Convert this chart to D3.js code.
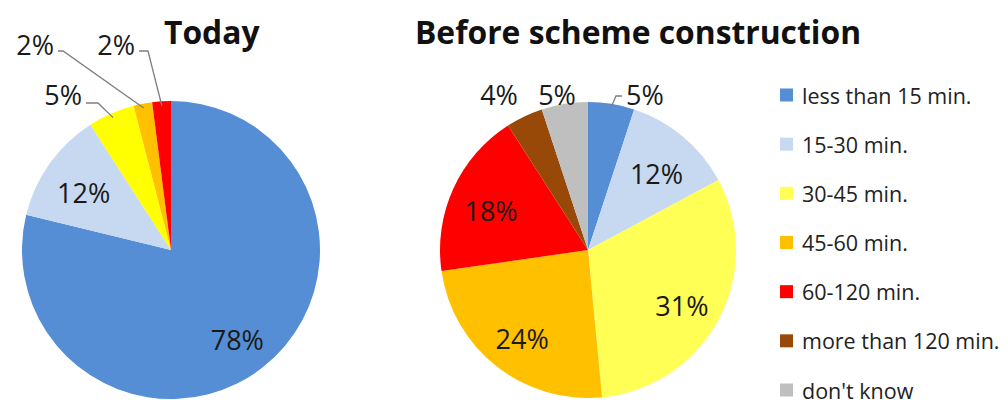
<!DOCTYPE html>
<html>
<head>
<meta charset="utf-8">
<script src="https://cdn.jsdelivr.net/npm/d3@7"></script>
<style>
  html, body { margin: 0; padding: 0; background: #fff; }
  svg { display: block; font-family: "Open Sans", Lato, sans-serif; }
</style>
</head>
<body>
<svg id="chart" width="1008" height="400"></svg>
<script>
// Travel time categories shared by both pies and the legend
const categories = ["less than 15 min.", "15-30 min.", "30-45 min.", "45-60 min.", "60-120 min.", "more than 120 min.", "don't know"];
// Share of respondents (%) per category
const todayValues = [78, 12, 5, 2, 2, 0, 0];
const beforeValues = [5, 12, 31, 24, 18, 4, 5];
const titles = ["Today", "Before scheme construction"];

const colorsToday  = ["#558ED5", "#C6D9F1", "#FFFF00", "#FFC000", "#FF0000", "#984807", "#BFBFBF"];
const colorsBefore = ["#558ED5", "#C6D9F1", "#FFFF55", "#FFC000", "#FF0000", "#984807", "#BFBFBF"];

const svg = d3.select("#chart");

const pie = d3.pie().sort(null).value(d => d.v);

// Pie layouts: centre, radius, and which slices get an outside callout
const layouts = [
  {
    cx: 171, cy: 250, r: 149, values: todayValues, colors: colorsToday,
    title: { x: 164, y: 44 },
    // callout: label anchor offset from centre, elbow offset from centre
    callouts: {
      2: { tx: -89, ty: -156, anchor: "end", elbow: [-73, -147], ly: -147 },
      3: { tx: -117, ty: -206, anchor: "end", elbow: [-108, -199], ly: -199 },
      4: { tx: -36, ty: -206, anchor: "end", elbow: [-23, -199], ly: -199 }
    }
  },
  {
    cx: 588, cy: 250, r: 148, values: beforeValues, colors: colorsBefore,
    title: { x: 415, y: 44 },
    callouts: {
      0: { tx: 38, ty: -156, anchor: "start", elbow: [28, -154], ly: -154 },
      5: { tx: -89, ty: -156, anchor: "middle", elbow: null },
      6: { tx: -31, ty: -156, anchor: "middle", elbow: null }
    }
  }
];

layouts.forEach((L, pi) => {
  const data = categories.map((c, i) => ({ c, v: L.values[i], i }));
  const arcs = pie(data).filter(a => a.data.v > 0);
  const g = svg.append("g").attr("transform", `translate(${L.cx},${L.cy})`);
  const arc = d3.arc().innerRadius(0).outerRadius(L.r);
  const labelArc = d3.arc().innerRadius(L.r * 0.72).outerRadius(L.r * 0.72);
  const edgeArc = d3.arc().innerRadius(L.r * 0.97).outerRadius(L.r * 0.97);

  g.selectAll("path.slice").data(arcs).join("path")
    .attr("class", "slice")
    .attr("d", arc)
    .attr("fill", d => L.colors[d.data.i])
    .attr("stroke", "none");

  arcs.forEach(a => {
    const co = L.callouts[a.data.i];
    const txt = a.data.v + "%";
    if (!co) {
      const [x, y] = labelArc.centroid(a);
      g.append("text")
        .attr("x", x).attr("y", y + 5)
        .attr("text-anchor", "middle")
        .attr("dominant-baseline", "central")
        .attr("font-size", 27)
        .attr("fill", "#1a1a1a")
        .text(txt);
    } else {
      if (co.elbow) {
        const [ex, ey] = edgeArc.centroid(a);
        const lx = co.anchor === "end" ? co.tx + 4 : co.tx - 4;
        g.append("polyline")
          .attr("points", [[ex, ey], co.elbow, [lx, co.ly]].map(p => p.join(",")).join(" "))
          .attr("fill", "none")
          .attr("stroke", "#7f7f7f")
          .attr("stroke-width", 1.3);
      }
      g.append("text")
        .attr("x", co.tx).attr("y", co.ty)
        .attr("text-anchor", co.anchor)
        .attr("dominant-baseline", "central")
        .attr("font-size", 27)
        .attr("fill", "#1a1a1a")
        .text(txt);
    }
  });

  svg.append("text")
    .attr("x", L.title.x).attr("y", L.title.y)
    .attr("font-size", 31.8)
    .attr("font-weight", "bold")
    .attr("fill", "#111")
    .text(titles[pi]);
});

// Legend
const legend = svg.append("g").attr("transform", "translate(780,95)");
const rowY = d3.scalePoint().domain(categories).range([0, 295]);
const rows = legend.selectAll("g").data(categories).join("g")
  .attr("transform", d => `translate(0,${rowY(d)})`);
rows.append("rect")
  .attr("x", 0).attr("y", -6.5).attr("width", 13).attr("height", 13)
  .attr("fill", (d, i) => colorsBefore[i]);
rows.append("text")
  .attr("x", 22).attr("y", 0)
  .attr("dominant-baseline", "central")
  .attr("font-size", 21.5)
  .attr("fill", "#222")
  .text(d => d);
</script>
</body>
</html>
